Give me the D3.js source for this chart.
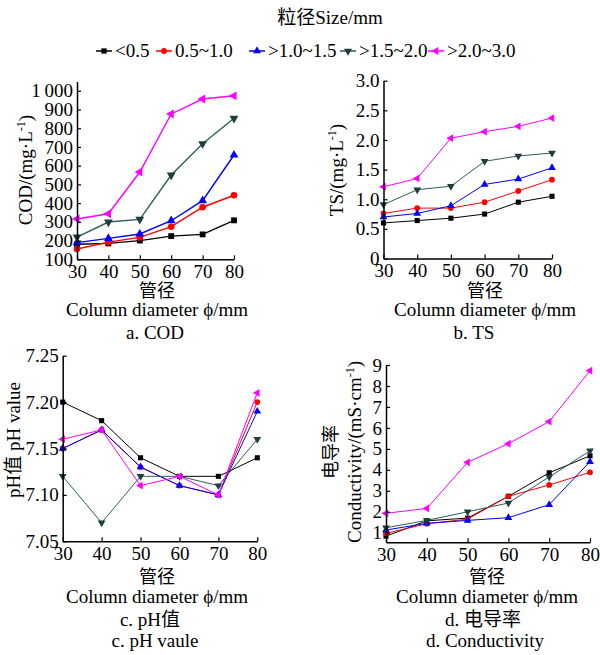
<!DOCTYPE html>
<html><head><meta charset="utf-8">
<script src="https://cdn.jsdelivr.net/npm/d3@7"></script>
<style>
body{margin:0;background:#fff;}
svg{display:block;}
text{font-family:'Liberation Serif','Times New Roman','Noto Sans CJK SC',serif;fill:#000;}
</style></head>
<body>
<svg id="chart" width="600" height="655"></svg>
<script>
// ---------- data ----------
const xValues = [30, 40, 50, 60, 70, 80];
const seriesNames = ["<0.5", "0.5~1.0", ">1.0~1.5", ">1.5~2.0", ">2.0~3.0"];
const codValues = [
  [180, 185, 200, 224, 233, 308],
  [155, 192, 217, 274, 378, 442],
  [189, 212, 235, 306, 413, 657],
  [219, 299, 313, 550, 717, 853],
  [315, 343, 566, 876, 956, 973]
];
const tsValues = [
  [0.60, 0.64, 0.68, 0.75, 0.95, 1.05],
  [0.76, 0.85, 0.85, 0.95, 1.14, 1.33],
  [0.70, 0.76, 0.89, 1.25, 1.34, 1.53],
  [0.91, 1.16, 1.22, 1.64, 1.73, 1.78],
  [1.21, 1.35, 2.03, 2.14, 2.23, 2.37]
];
const phValues = [
  [7.20, 7.18, 7.14, 7.12, 7.12, 7.14],
  [7.15, 7.17, 7.13, 7.11, 7.10, 7.20],
  [7.15, 7.17, 7.13, 7.11, 7.10, 7.19],
  [7.12, 7.07, 7.12, 7.12, 7.11, 7.16],
  [7.16, 7.17, 7.11, 7.12, 7.10, 7.21]
];
const condValues = [
  [0.84, 1.57, 1.70, 2.74, 3.86, 4.67],
  [0.97, 1.43, 1.65, 2.74, 3.28, 3.88],
  [1.13, 1.45, 1.59, 1.72, 2.34, 4.39],
  [1.24, 1.59, 2.00, 2.42, 3.66, 4.91],
  [1.93, 2.16, 4.36, 5.25, 6.30, 8.73]
];
const codTicks = [100, 200, 300, 400, 500, 600, 700, 800, 900, 1000];
const tsTicks = [0, 0.5, 1.0, 1.5, 2.0, 2.5, 3.0];
const phTicks = [7.05, 7.10, 7.15, 7.20, 7.25];
const condTicks = [1, 2, 3, 4, 5, 6, 7, 8, 9];

// ---------- styles ----------
const colors = ["#000000", "#ff0000", "#0000ff", "#2e5e5e", "#ff00ff"];
const markerColors = ["#000000", "#ff0000", "#0000ff", "#1f3d3d", "#ff00ff"];
const symbols = [
  {type: d3.symbolSquare, rot: 0},
  {type: d3.symbolCircle, rot: 0},
  {type: d3.symbolTriangle, rot: 0},
  {type: d3.symbolTriangle, rot: 180},
  {type: d3.symbolTriangle, rot: -90}
];

const svg = d3.select("#chart");
const FS = 19;

function addText(x, y, str, opts = {}) {
  const t = svg.append("text").attr("x", x).attr("y", y)
    .attr("text-anchor", opts.anchor || "middle")
    .attr("font-size", opts.size || FS);
  if (opts.rotate) t.attr("transform", `rotate(-90,${x},${y})`);
  return t.text(str);
}
function addSupLabel(x, y, pre, sup, post, rotate) {
  const t = svg.append("text").attr("x", x).attr("y", y)
    .attr("text-anchor", "middle").attr("font-size", FS);
  if (rotate) t.attr("transform", `rotate(-90,${x},${y})`);
  t.append("tspan").text(pre);
  t.append("tspan").attr("font-size", 12).attr("dy", -7).text(sup);
  t.append("tspan").attr("dy", 7).text(post);
  return t;
}

function drawPanel(p, values, ticks, fmt) {
  const g = svg.append("g");
  const x = d3.scaleLinear().domain([30, 80]).range([p.x0, p.x1]);
  const y = d3.scaleLinear().domain(p.yDomain).range([p.yBot, p.yTop]);

  const line = d3.line().x((d, i) => x(xValues[i])).y(d => y(d));
  values.forEach((vals, s) => {
    g.append("path").datum(vals).attr("d", line)
      .attr("fill", "none").attr("stroke", colors[s]).attr("stroke-width", p.lw);
    g.selectAll(null).data(vals).enter().append("path")
      .attr("d", d3.symbol().type(symbols[s].type).size(p.ms))
      .attr("transform", (d, i) => `translate(${x(xValues[i])},${y(d)}) rotate(${symbols[s].rot})`)
      .attr("fill", markerColors[s]);
  });

  const ax = g.append("g").attr("transform", `translate(0,${p.yBot})`)
    .call(d3.axisBottom(x).tickValues(xValues).tickSizeInner(-4).tickSizeOuter(0).tickPadding(5));
  const ay = g.append("g").attr("transform", `translate(${p.x0},0)`)
    .call(d3.axisLeft(y).tickValues(ticks).tickFormat(fmt).tickSizeInner(-4).tickSizeOuter(0).tickPadding(4));
  [ax, ay].forEach(a => {
    a.select(".domain").attr("stroke", "#000").attr("stroke-width", 1.5);
    a.selectAll(".tick line").attr("stroke", "#000").attr("stroke-width", 1.2);
    a.selectAll("text").attr("font-size", FS).attr("font-family", "'Liberation Serif','Times New Roman',serif").attr("fill", "#000");
  });
}

// ---------- title & legend ----------
addText(330, 24, "粒径Size/mm");
const legendX = [96, 156, 249, 340, 428];
seriesNames.forEach((name, s) => {
  const lx = legendX[s], ly = 51;
  svg.append("line").attr("x1", lx).attr("x2", lx + 16).attr("y1", ly).attr("y2", ly)
    .attr("stroke", colors[s]).attr("stroke-width", 1.5);
  svg.append("path").attr("d", d3.symbol().type(symbols[s].type).size(28))
    .attr("transform", `translate(${lx + 8},${ly}) rotate(${symbols[s].rot})`)
    .attr("fill", markerColors[s]);
  addText(lx + 19, 57, name, {anchor: "start"});
});

// ---------- panels ----------
const fmtCod = d => d === 1000 ? "1\u2009000" : String(d);
drawPanel({x0: 77, x1: 234, yDomain: [100, 1050], yBot: 259.3, yTop: 81.4, lw: 1.4, ms: 34}, codValues, codTicks, fmtCod);
drawPanel({x0: 383.5, x1: 552, yDomain: [0, 3], yBot: 258.5, yTop: 80.7, lw: 1, ms: 26}, tsValues, tsTicks, d => d === 0 ? "0" : d3.format(".1f")(d));
drawPanel({x0: 62.7, x1: 257.3, yDomain: [7.05, 7.25], yBot: 541.3, yTop: 355.7, lw: 1, ms: 26}, phValues, phTicks, d3.format(".2f"));
drawPanel({x0: 386, x1: 590, yDomain: [0.55, 9], yBot: 542.2, yTop: 365, lw: 1, ms: 26}, condValues, condTicks, d3.format("d"));

// ---------- axis titles ----------
addSupLabel(32, 170, "COD/(mg·L", "-1", ")", true);
addSupLabel(343, 170, "TS/(mg·L", "-1", ")", true);
addText(20, 440, "pH值 pH value", {rotate: true});
addText(337, 452, "电导率", {rotate: true, size: 18});
addSupLabel(361, 452, "Conductivity/(mS·cm", "-1", ")", true);

addText(157, 297, "管径", {size: 18});
addText(157, 316, "Column diameter \u03d5/mm");
addText(155, 339, "a. COD");
addText(485, 297, "管径", {size: 18});
addText(485, 316, "Column diameter \u03d5/mm");
addText(474, 339, "b. TS");

addText(157, 583, "管径", {size: 18});
addText(157, 603, "Column diameter \u03d5/mm");
addText(150, 626, "c. pH值");
addText(155, 647, "c. pH vaule");
addText(487, 583, "管径", {size: 18});
addText(487, 603, "Column diameter \u03d5/mm");
addText(483, 626, "d. 电导率");
addText(485, 647, "d. Conductivity");
</script>
</body></html>
